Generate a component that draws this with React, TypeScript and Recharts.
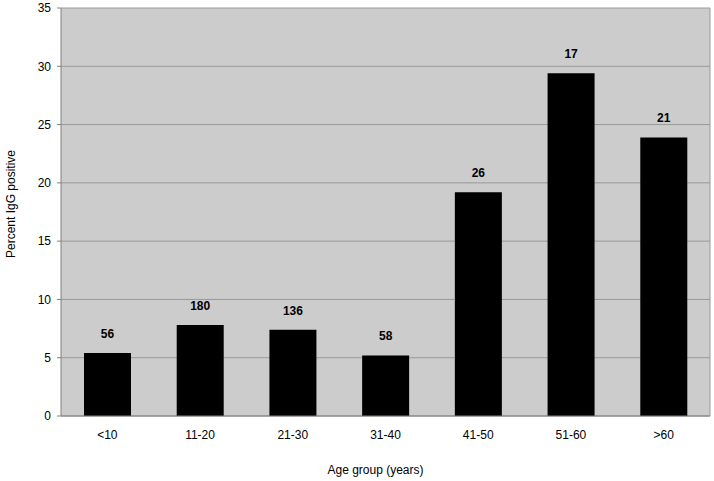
import React from 'react';
import { BarChart, Bar, XAxis, YAxis, CartesianGrid, LabelList } from 'recharts';

const ageGroups = ['<10', '11-20', '21-30', '31-40', '41-50', '51-60', '>60'];
const percentIgGPositive = [5.4, 7.8, 7.4, 5.2, 19.2, 29.4, 23.9];
const sampleCounts = [56, 180, 136, 58, 26, 17, 21];
const yTicks = [0, 5, 10, 15, 20, 25, 30, 35];
const boundaryTicks = [0, 1, 2, 3, 4, 5, 6, 7];

const data = ageGroups.map((g, i) => ({
  group: g,
  pct: percentIgGPositive[i],
  n: sampleCounts[i],
  pos: i + 0.5,
}));

const font = 'Liberation Sans, Arial, Helvetica, sans-serif';

const YTitle = (props: any) => {
  const vb = props.viewBox || {};
  const cx = 11;
  const cy = (vb.y ?? 0) + (vb.height ?? 0) / 2 - 8;
  return (
    <text
      x={cx}
      y={cy}
      transform={`rotate(-90, ${cx}, ${cy})`}
      textAnchor="middle"
      dominantBaseline="central"
      fill="#000"
      fontSize={12}
      fontFamily={font}
    >
      Percent IgG positive
    </text>
  );
};

export default function App() {
  return (
    <div style={{ position: 'absolute', left: 0, top: 0, fontFamily: font }}>
      <BarChart
        width={714}
        height={481}
        data={data}
        margin={{ top: 8, right: 0, bottom: 0, left: 0 }}
        barSize={47}
      >
        <CartesianGrid
          vertical={false}
          stroke="#999999"
          fill="#cccccc"
          fillOpacity={1}
        />
        <XAxis
          xAxisId="b"
          type="number"
          dataKey="pos"
          domain={[0, 7]}
          ticks={boundaryTicks}
          height={0}
          axisLine={false}
          tickSize={5}
          tickLine={{ stroke: '#808080' }}
          tickFormatter={() => ''}
          allowDataOverflow
        />
        <XAxis
          dataKey="group"
          height={65}
          tickLine={false}
          tickSize={0}
          tickMargin={14}
          axisLine={{ stroke: '#808080' }}
          tick={{ fill: '#000', fontSize: 12, fontFamily: font }}
          label={{
            value: 'Age group (years)',
            position: 'insideBottom',
            offset: 7,
            dx: -10,
            fill: '#000',
            fontSize: 12,
            fontFamily: font,
          }}
        />
        <YAxis
          width={61}
          domain={[0, 35]}
          ticks={yTicks}
          interval={0}
          tickSize={4}
          tickMargin={6}
          axisLine={{ stroke: '#808080' }}
          tickLine={{ stroke: '#808080' }}
          tick={{ fill: '#000', fontSize: 12, fontFamily: font }}
          label={<YTitle />}
        />
        <YAxis
          yAxisId="r"
          orientation="right"
          width={4}
          domain={[0, 35]}
          tick={false}
          tickLine={false}
          axisLine={{ stroke: '#999999' }}
        />
        <Bar dataKey="pct" fill="#000000" isAnimationActive={false}>
          <LabelList
            dataKey="n"
            position="top"
            offset={15}
            fill="#000"
            fontSize={12}
            fontWeight="bold"
            fontFamily={font}
          />
        </Bar>
      </BarChart>
    </div>
  );
}
